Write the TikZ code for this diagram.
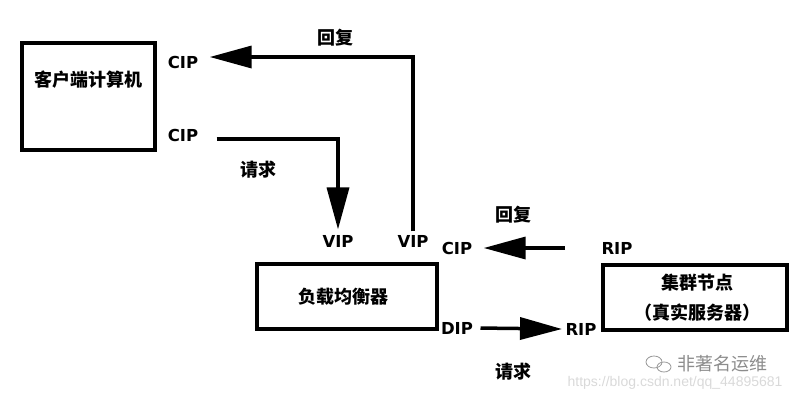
\documentclass[tikz,border=0pt]{standalone}
\usepackage{fontspec}
\setmainfont{Liberation Sans}
\newfontfamily\cjk{Noto Sans CJK SC}
\newfontfamily\addr{DejaVu Sans}
\usetikzlibrary{arrows.meta}
\begin{document}
\begin{tikzpicture}[x=1pt, y=-1pt,
    box/.style = {draw, line width=3.5pt, inner sep=0pt},
    lbl/.style = {font=\addr\bfseries\fontsize{16.5}{17}\selectfont},
    cn/.style = {font=\cjk\bfseries\fontsize{18}{22}\selectfont},
    wire/.style = {line width=3.5pt},
    tip/.style = {-{Triangle[length=42pt, width=22pt]}}]
    \useasboundingbox (0,0) rectangle (794,400);

    % boxes
    \node[box, minimum width=133pt, minimum height=107pt] (client) at (88.5,96.5) {};
    \node[cn] (clienttxt) at (88,80) {客户端计算机};
    \node[box, minimum width=180pt, minimum height=65pt] (lb) at (347,296.5) {};
    \node[cn] (lbtxt) at (343,297) {负载均衡器};
    \node[box, minimum width=184pt, minimum height=65pt] (rs) at (695,297.5) {};
    \node[cn] (rstxt1) at (697,283) {集群节点};
    \node[cn] (rstxt2) at (697,313) {（真实服务器）};

    % addresses
    \node[lbl] (cipa) at (183,62) {CIP};
    \node[lbl] (cipb) at (183,135) {CIP};
    \node[lbl] (vipa) at (338,241) {VIP};
    \node[lbl] (vipb) at (413,241) {VIP};
    \node[lbl] (cipc) at (457,248) {CIP};
    \node[lbl] (dip) at (457,328) {DIP};
    \node[lbl] (ripa) at (617,248) {RIP};
    \node[lbl] (ripb) at (581,329) {RIP};

    % labels
    \node[cn] (replya) at (335,38) {回复};
    \node[cn] (reqa) at (258,170) {请求};
    \node[cn] (replyb) at (513,215) {回复};
    \node[cn] (reqb) at (513,372) {请求};

    % connectors
    \draw[wire, tip, shorten >=8pt] (vipb.north) |- ([yshift=5pt]cipa.east);
    \draw[wire, tip, shorten <=15pt, shorten >=2pt] ([yshift=-4pt]cipb.east) -| (vipa.north);
    \draw[wire, tip, shorten <=33pt, shorten >=8pt] (ripa.west) -- (cipc.east);
    \draw[wire, tip, shorten <=4pt] (dip.east) -- (ripb.west);

    % watermark
    \node[font=\cjk\fontsize{18}{22}\selectfont, text=black!45] (mark) at (722,364) {非著名运维};
    \draw[black!40, line width=0.8pt] (654,362) ellipse (8pt and 6pt);
    \draw[black!40, line width=0.8pt] (664,367) ellipse (7pt and 5pt);
    \node[font=\fontsize{14}{14}\selectfont, text=black!15, anchor=east] (url) at (786,383) {https://blog.csdn.net/qq\_44895681};
\end{tikzpicture}
\end{document}
